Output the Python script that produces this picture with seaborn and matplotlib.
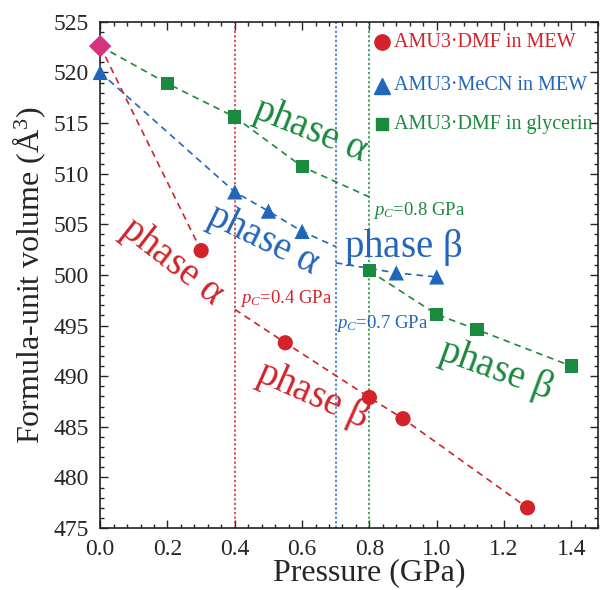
import numpy as np
import pandas as pd
import matplotlib
matplotlib.use("Agg")
import matplotlib.pyplot as plt
from matplotlib.ticker import MultipleLocator
import seaborn as sns

sns.set_style("ticks")
plt.rcParams['font.family'] = ['Liberation Serif', 'DejaVu Serif']
plt.rcParams['mathtext.fontset'] = 'custom'
plt.rcParams['mathtext.it'] = 'Liberation Serif:italic'
plt.rcParams['mathtext.rm'] = 'Liberation Serif'

red = '#d3222a'
blue = '#2266bb'
green = '#1a8a3e'
pink = '#d6337f'

# ambient point (shared)
p0, v0 = 0.0, 522.6

# AMU3-DMF in MEW
dmf_p = [0.30, 0.55, 0.80, 0.90, 1.27]
dmf_v = [502.4, 493.3, 487.9, 485.8, 477.0]
# AMU3-MeCN in MEW
mecn_p = [0.0, 0.40, 0.50, 0.60, 0.88, 1.00]
mecn_v = [520.0, 508.2, 506.3, 504.3, 500.2, 499.8]
# AMU3-DMF in glycerin
gly_p = [0.20, 0.40, 0.60, 0.80, 1.00, 1.12, 1.40]
gly_v = [518.9, 515.6, 510.7, 500.4, 496.1, 494.6, 491.0]

# dashed guide lines (phase alpha / phase beta branches)
dmf_a_p = [0.0, 0.30]; dmf_a_v = [522.6, 502.4]
dmf_b_p = [0.40, 0.55, 0.80, 0.90, 1.27]; dmf_b_v = [496.6, 493.3, 487.9, 485.8, 477.0]
mecn_a_p = [0.0, 0.40, 0.50, 0.60, 0.70]; mecn_a_v = [520.0, 508.2, 506.3, 504.3, 502.8]
mecn_b_p = [0.70, 0.88, 1.00]; mecn_b_v = [501.2, 500.2, 499.8]
gly_a_p = [0.0, 0.20, 0.40, 0.60, 0.80]; gly_a_v = [522.6, 518.9, 515.6, 510.7, 507.7]
gly_b_p = [0.80, 1.00, 1.12, 1.40]; gly_b_v = [500.4, 496.1, 494.6, 491.0]

pc = [0.4, 0.7, 0.8]

fig = plt.figure(figsize=(6.0, 5.9), dpi=100)
ax = fig.add_axes([0.167, 0.105, 0.83, 0.858])

for xs, ys, c in [(dmf_a_p, dmf_a_v, red), (dmf_b_p, dmf_b_v, red),
                  (mecn_a_p, mecn_a_v, blue), (mecn_b_p, mecn_b_v, blue),
                  (gly_a_p, gly_a_v, green), (gly_b_p, gly_b_v, green)]:
    sns.lineplot(x=xs, y=ys, ax=ax, color=c, lw=1.2, dashes=False, sort=False)
for ln in ax.lines:
    ln.set_linestyle((0, (4, 3)))

for x, c in zip(pc, [red, blue, green]):
    ax.axvline(x, color=c, lw=1.1, ls=(0, (1.5, 1.5)), zorder=1)

sns.scatterplot(x=dmf_p, y=dmf_v, ax=ax, color=red, marker='o', s=120, edgecolor='none', zorder=4)
sns.scatterplot(x=mecn_p, y=mecn_v, ax=ax, color=blue, marker='^', s=120, edgecolor='none', zorder=4)
sns.scatterplot(x=gly_p, y=gly_v, ax=ax, color=green, marker='s', s=90, edgecolor='none', zorder=4)
sns.scatterplot(x=[p0], y=[v0], ax=ax, color=pink, marker='D', s=130, edgecolor='none', zorder=5)
for coll in ax.collections:
    coll.set_clip_on(False)

# legend
items = [('o', red, 'AMU3·DMF in MEW', 523.0),
         ('^', blue, 'AMU3·MeCN in MEW', 518.7),
         ('s', green, 'AMU3·DMF in glycerin', 514.9)]
for m, c, lab, yy in items:
    ax.plot([0.838], [yy], marker=m, color=c, ms=11 if m != 's' else 9, ls='none', clip_on=False)
    ax.text(0.872, yy, lab, color=c, fontsize=14.5, va='center', ha='left')

# phase labels
ax.text(0.625, 514.3, r'phase $\mathrm{\alpha}$', color=green, fontsize=28, rotation=-22,
        ha='center', va='center', rotation_mode='anchor')
ax.text(0.482, 503.5, r'phase $\mathrm{\alpha}$', color=blue, fontsize=28, rotation=-26,
        ha='center', va='center', rotation_mode='anchor')
ax.text(0.214, 501.3, r'phase $\mathrm{\alpha}$', color=red, fontsize=28, rotation=-38,
        ha='center', va='center', rotation_mode='anchor')
ax.text(0.899, 502.7, r'phase $\mathrm{\beta}$', color=blue, fontsize=28,
        ha='center', va='center')
ax.text(0.631, 488.1, r'phase $\mathrm{\beta}$', color=red, fontsize=28, rotation=-24,
        ha='center', va='center', rotation_mode='anchor')
ax.text(1.176, 490.6, r'phase $\mathrm{\beta}$', color=green, fontsize=28, rotation=-20,
        ha='center', va='center', rotation_mode='anchor')

ax.text(0.415, 497.7, r'$p_C$=0.4 GPa', color=red, fontsize=13.5, ha='left', va='center')
ax.text(0.70, 495.2, r'$p_C$=0.7 GPa', color=blue, fontsize=13.5, ha='left', va='center')
ax.text(0.81, 506.4, r'$p_C$=0.8 GPa', color=green, fontsize=13.5, ha='left', va='center')

ax.set_xlim(0.0, 1.48)
ax.set_ylim(475, 525)
ax.xaxis.set_major_locator(MultipleLocator(0.2))
ax.xaxis.set_minor_locator(MultipleLocator(0.04))
ax.yaxis.set_major_locator(MultipleLocator(5))
ax.yaxis.set_minor_locator(MultipleLocator(1))
ax.set_xticklabels([f'{t:.1f}' for t in ax.get_xticks()])
ax.tick_params(which='both', direction='in', top=True, right=True, labelsize=17, width=1.0)
ax.tick_params(which='major', length=6, pad=8)
ax.tick_params(which='minor', length=3)
for sp in ax.spines.values():
    sp.set_linewidth(1.2)
    sp.set_color('#222222')

ax.set_xlabel('Pressure (GPa)', fontsize=23, labelpad=0)
ax.xaxis.set_label_coords(0.54, -0.06)
ax.set_ylabel('Formula-unit volume (Å$^3$)', fontsize=23, labelpad=4)

fig.savefig('out.png', dpi=100)
